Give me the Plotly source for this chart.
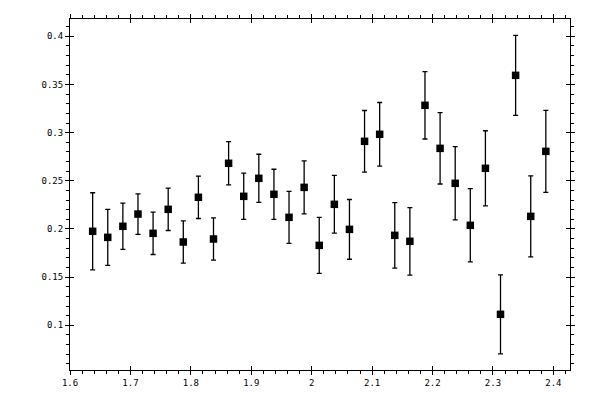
import plotly.graph_objects as go

x_vals = [1.6375, 1.6625, 1.6875, 1.7125, 1.7375, 1.7625, 1.7875, 1.8125,
          1.8375, 1.8625, 1.8875, 1.9125, 1.9375, 1.9625, 1.9875, 2.0125,
          2.0375, 2.0625, 2.0875, 2.1125, 2.1375, 2.1625, 2.1875, 2.2125,
          2.2375, 2.2625, 2.2875, 2.3125, 2.3375, 2.3625, 2.3875]
y_vals = [0.1976, 0.1913, 0.2028, 0.2155, 0.1955, 0.2204, 0.1865, 0.2329,
          0.1896, 0.2682, 0.2339, 0.2526, 0.2360, 0.2121, 0.2432, 0.1830,
          0.2256, 0.1996, 0.2910, 0.2983, 0.1934, 0.1872, 0.3284, 0.2837,
          0.2474, 0.2038, 0.2630, 0.1114, 0.3595, 0.2131, 0.2806]
y_err = [0.040, 0.029, 0.024, 0.021, 0.022, 0.022, 0.022, 0.022,
         0.022, 0.0225, 0.024, 0.025, 0.026, 0.027, 0.0275, 0.029,
         0.030, 0.031, 0.032, 0.033, 0.034, 0.035, 0.035, 0.037,
         0.038, 0.038, 0.039, 0.041, 0.0415, 0.042, 0.0425]

x_range = [1.6, 2.4275]
y_range = [0.0536, 0.418]

points = go.Scatter(
    x=x_vals,
    y=y_vals,
    mode='markers',
    marker=dict(symbol='square', size=7.5, color='black'),
    error_y=dict(type='data', array=y_err, visible=True,
                 color='black', thickness=1.3, width=2.5),
    showlegend=False,
)

tick_font = dict(family='DejaVu Sans Mono', size=9, color='black')

# main axes: labels, outside major + minor ticks
axis_common = dict(
    showgrid=False,
    zeroline=False,
    showline=True,
    linecolor='black',
    linewidth=1,
    mirror='allticks',
    ticks='outside',
    ticklen=4,
    tickwidth=1,
    tickcolor='black',
    tickfont=tick_font,
)

# overlay axes: inside half of the major ticks so they cross the frame
overlay_common = dict(
    showgrid=False,
    zeroline=False,
    showline=False,
    mirror='allticks',
    ticks='inside',
    ticklen=4,
    tickwidth=1,
    tickcolor='black',
    showticklabels=False,
)

layout = go.Layout(
    width=600,
    height=400,
    margin=dict(l=70, r=30, t=19, b=30),
    plot_bgcolor='white',
    paper_bgcolor='white',
    xaxis=dict(axis_common, range=x_range, dtick=0.1, tick0=1.6,
               minor=dict(ticks='outside', ticklen=3, dtick=0.02, tick0=1.6,
                          tickcolor='black', showgrid=False)),
    yaxis=dict(axis_common, range=y_range, dtick=0.05, tick0=0.1,
               minor=dict(ticks='outside', ticklen=3, dtick=0.01, tick0=0.1,
                          tickcolor='black', showgrid=False)),
    xaxis2=dict(overlay_common, range=x_range, dtick=0.1, tick0=1.6,
                overlaying='x', anchor='y2', side='bottom'),
    yaxis2=dict(overlay_common, range=y_range, dtick=0.05, tick0=0.1,
                overlaying='y', anchor='x2', side='left'),
)

fig = go.Figure(data=[points], layout=layout)
# invisible trace to make the overlay axes draw
fig.add_trace(go.Scatter(x=[x_range[0]], y=[y_range[0]], xaxis='x2', yaxis='y2',
                         mode='markers', marker=dict(opacity=0), showlegend=False,
                         hoverinfo='skip'))
# drop the default page margin so the 600x400 figure sits at the window origin
fig.write_html('out.html', config={'displayModeBar': False},
               post_script="document.body.style.margin='0';")
